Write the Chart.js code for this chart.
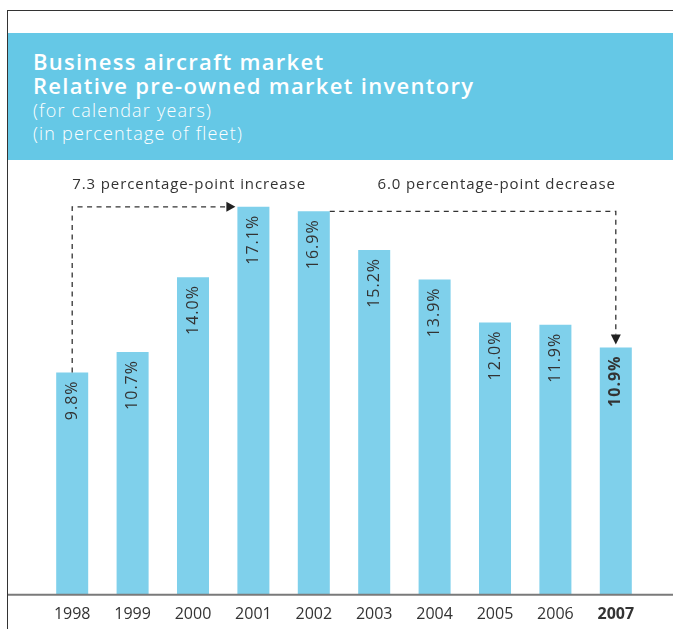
<!DOCTYPE html>
<html lang="en">
<head>
  <meta charset="UTF-8">
  <title>Business aircraft market</title>
  <script src="https://cdn.jsdelivr.net/npm/chart.js"></script>
  <style>
    html, body { margin: 0; padding: 0; background: #fff; }
    body { width: 673px; height: 629px; position: relative; overflow: hidden; font-family: "Open Sans", sans-serif; }
    .frame { position: absolute; left: 7px; top: 10px; right: 0; bottom: 0; border-top: 1.5px solid #333; border-left: 1.5px solid #333; }
    .band { position: absolute; left: 8px; top: 33px; right: 0; height: 127px; background: #65c8e6; color: #fff; }
    .band .t { position: absolute; left: 25px; font-size: 22px; font-weight: 600; letter-spacing: 1.3px; white-space: nowrap; }
    .band .s { position: absolute; left: 25px; font-size: 18px; font-weight: 300; letter-spacing: 1.2px; white-space: nowrap; }
    #chart { position: absolute; left: 0; top: 0; }
  </style>
</head>
<body>
  <div class="frame"></div>
  <div class="band">
    <div class="t" style="top:13px">Business aircraft market</div>
    <div class="t" style="top:37px">Relative pre-owned market inventory</div>
    <div class="s" style="top:65px">(for calendar years)</div>
    <div class="s" style="top:88px">(in percentage of fleet)</div>
  </div>
  <canvas id="chart" width="673" height="629"></canvas>

  <script>
    const anos = ['1998', '1999', '2000', '2001', '2002', '2003', '2004', '2005', '2006', '2007'];
    const estoque = [9.8, 10.7, 14.0, 17.1, 16.9, 15.2, 13.9, 12.0, 11.9, 10.9];
    const ultimo = anos.length - 1;

    // rótulos de valor, linha de base e setas tracejadas
    const extras = {
      id: 'extras',
      afterDatasetsDraw(chart) {
        const ctx = chart.ctx;
        const bars = chart.getDatasetMeta(0).data;

        ctx.save();
        // valores na vertical dentro das barras
        ctx.fillStyle = '#333';
        ctx.textAlign = 'right';
        ctx.textBaseline = 'middle';
        ctx.letterSpacing = '1px';
        bars.forEach((b, i) => {
          ctx.save();
          ctx.font = (i === ultimo ? 'bold ' : '') + '16px "Open Sans"';
          ctx.translate(b.x, b.y + 8);
          ctx.rotate(-Math.PI / 2);
          ctx.fillText(estoque[i].toFixed(1) + '%', 0, 0);
          ctx.restore();
        });

        // linha de base
        const base = chart.scales.y.getPixelForValue(0);
        ctx.strokeStyle = '#7a7a7a';
        ctx.lineWidth = 2;
        ctx.beginPath();
        ctx.moveTo(8, base);
        ctx.lineTo(chart.width, base);
        ctx.stroke();

        // mínimo -> máximo e máximo -> último ano
        let iMax = 0;
        estoque.forEach((v, i) => { if (v > estoque[iMax]) iMax = i; });
        const a = bars[0], m = bars[iMax], n = bars[iMax + 1], z = bars[ultimo];

        ctx.strokeStyle = '#333';
        ctx.fillStyle = '#222';
        ctx.lineWidth = 1.3;
        ctx.setLineDash([5, 4.5]);

        ctx.beginPath();
        ctx.moveTo(a.x, a.y);
        ctx.lineTo(a.x, m.y);
        ctx.lineTo(m.x - m.width / 2 - 11, m.y);
        ctx.stroke();

        ctx.beginPath();
        ctx.moveTo(n.x + n.width / 2, n.y);
        ctx.lineTo(z.x, n.y);
        ctx.lineTo(z.x, z.y - 13);
        ctx.stroke();

        ctx.setLineDash([]);
        // pontas das setas
        const px = m.x - m.width / 2 - 2;
        ctx.beginPath();
        ctx.moveTo(px, m.y);
        ctx.lineTo(px - 9, m.y - 5);
        ctx.lineTo(px - 9, m.y + 5);
        ctx.closePath();
        ctx.fill();

        const py = z.y - 3;
        ctx.beginPath();
        ctx.moveTo(z.x, py);
        ctx.lineTo(z.x - 5, py - 10);
        ctx.lineTo(z.x + 5, py - 10);
        ctx.closePath();
        ctx.fill();

        ctx.font = '15px "Open Sans"';
        ctx.letterSpacing = '0.9px';
        ctx.fillStyle = '#333';
        ctx.textBaseline = 'middle';
        ctx.textAlign = 'left';
        ctx.fillText((estoque[iMax] - estoque[0]).toFixed(1) + ' percentage-point increase', a.x, 185);
        ctx.textAlign = 'right';
        ctx.fillText((estoque[iMax + 1] - estoque[ultimo]).toFixed(1) + ' percentage-point decrease', z.x, 185);
        ctx.restore();
      }
    };

    new Chart(document.getElementById('chart'), {
      type: 'bar',
      data: {
        labels: anos,
        datasets: [{
          data: estoque,
          backgroundColor: '#7fd0eb',
          barPercentage: 0.53,
          categoryPercentage: 1
        }]
      },
      options: {
        responsive: false,
        animation: false,
        layout: { padding: { top: 141, left: 42, right: 27, bottom: -5 } },
        plugins: { legend: { display: false }, tooltip: { enabled: false } },
        scales: {
          y: { display: false, min: 0, max: 20 },
          x: {
            grid: { display: false, drawTicks: false },
            border: { display: false },
            ticks: {
              padding: 10,
              color: '#333',
              font: ctx => ({ family: '"Open Sans"', size: 16, weight: ctx.index === ultimo ? 'bold' : 'normal' })
            }
          }
        }
      },
      plugins: [extras]
    });
  </script>
</body>
</html>
